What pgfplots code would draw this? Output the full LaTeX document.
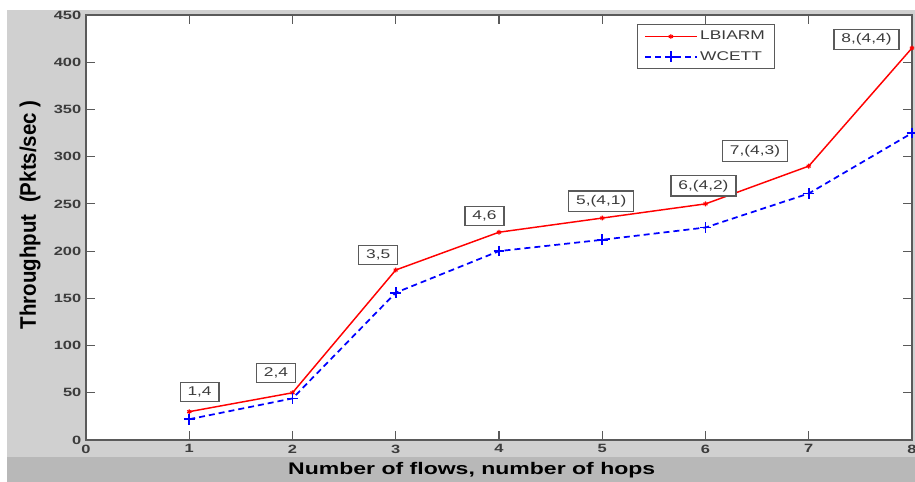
\documentclass[border=0pt]{standalone}
\usepackage{pgfplots}
\pgfplotsset{compat=1.18}
\usepackage{fontspec}
\setmainfont{Liberation Sans}
\definecolor{bglight}{RGB}{208,208,208}
\definecolor{bgdark}{RGB}{184,184,184}
\definecolor{axisgray}{RGB}{90,90,90}
\definecolor{ticktext}{RGB}{60,60,60}
\newcommand{\wide}[1]{\scalebox{1.37}[1]{#1}}
\begin{document}
\begin{tikzpicture}
\useasboundingbox (-64.5pt,-31.5pt) rectangle (621.75pt,330pt);
\fill[bglight] (-59.25pt,-12.75pt) rectangle (621.75pt,322.5pt);
\fill[bgdark] (-59.25pt,-31.5pt) rectangle (621.75pt,-12.75pt);
\begin{axis}[
  at={(0,0)}, anchor=south west,
  scale only axis, width=619.5pt, height=318.75pt,
  xmin=0, xmax=8, ymin=0, ymax=450,
  xtick={0,1,...,8}, ytick={0,50,...,450},
  tick align=inside, major tick length=6.75pt,
  axis line style={color=axisgray, line width=0.9pt},
  tick style={color=axisgray, line width=0.9pt},
  axis background/.style={fill=white},
  tick label style={font=\bfseries\fontsize{9}{10}\selectfont, color=ticktext},
  /pgf/number format/assume math mode=true,
  xticklabel={\wide{\pgfmathprintnumber{\tick}}},
  yticklabel={\wide{\pgfmathprintnumber{\tick}}},
  scaled ticks=false,
  xlabel={\wide{Number of flows, number of hops}},
  ylabel={\scalebox{1.25}[1.37]{Throughput\ \ (Pkts/sec )}},
  xlabel style={at={(axis description cs:0.467,-0.0706)}, anchor=center, font=\bfseries\fontsize{12.6}{13}\selectfont, color=black},
  ylabel style={at={(axis description cs:-0.0678,0.53)}, anchor=center, rotate=0, font=\bfseries\fontsize{12.3}{13}\selectfont, color=black},
  legend style={at={(axis description cs:0.667,0.979)}, anchor=north west, draw=axisgray, line width=0.9pt, font=\fontsize{9.5}{10}\selectfont, inner xsep=5pt, inner ysep=3pt, row sep=3pt, text=ticktext},
  legend cell align=left,
  legend image code/.code={\draw[mark repeat=2,mark phase=2] plot coordinates {(0cm,0cm) (0.68cm,0cm) (1.36cm,0cm)};},
]
\addplot[red, line width=1.1pt, mark=asterisk, mark size=1.8pt, mark options={solid, line width=0.8pt}] coordinates {
  (1,30) (2,50) (3,180) (4,220) (5,235) (6,250) (7,290) (8,415)
};
\addlegendentry{\wide{LBIARM}}
\addplot[blue, line width=1.3pt, dash pattern=on 4.5pt off 3pt, mark=+, mark size=4pt, mark options={solid, line width=1.3pt}] coordinates {
  (1,22) (2,44) (3,156) (4,200) (5,212) (6,225) (7,261) (8,325)
};
\addlegendentry{\wide{WCETT}}
\tikzset{lab/.style={draw=axisgray, line width=1pt, fill=white, font=\fontsize{9.5}{10}\selectfont, inner xsep=5.5pt, inner ysep=3.2pt, text=ticktext}}
\node[lab] at (axis cs:1.1,51) {\wide{1,4}};
\node[lab] at (axis cs:1.84,71) {\wide{2,4}};
\node[lab] at (axis cs:2.83,196) {\wide{3,5}};
\node[lab] at (axis cs:3.86,237) {\wide{4,6}};
\node[lab] at (axis cs:4.99,253) {\wide{5,(4,1)}};
\node[lab] at (axis cs:5.98,269) {\wide{6,(4,2)}};
\node[lab] at (axis cs:6.48,306) {\wide{7,(4,3)}};
\node[lab] at (axis cs:7.56,424) {\wide{8,(4,4)}};
\end{axis}
\end{tikzpicture}
\end{document}
